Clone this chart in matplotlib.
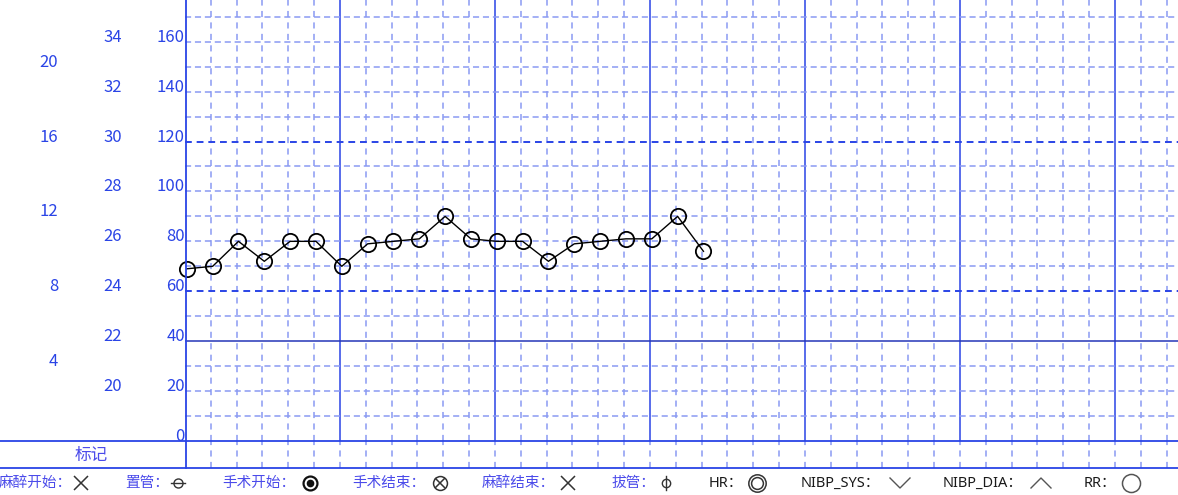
import numpy as np
import matplotlib.pyplot as plt
from matplotlib import transforms

plt.rcParams['font.family'] = ['Noto Sans CJK SC', 'DejaVu Sans']

# values (one point per 5-min column)
t = np.arange(21)
rr = [69, 70, 80, 72, 80, 80, 70, 79, 80, 81, 90, 81, 80, 80, 72, 79, 80, 81, 81, 90, 76]

main_ticks = [0, 20, 40, 60, 80, 100, 120, 140, 160]
col2_ticks = [20, 22, 24, 26, 28, 30, 32, 34]   # 18 + main/10
col1_ticks = [4, 8, 12, 16, 20]                 # main/7.5

legend_labels = ['麻醉开始：', '置管：', '手术开始：', '手术结束：', '麻醉结束：', '拔管：',
                 'HR：', 'NIBP_SYS：', 'NIBP_DIA：', 'RR：']
legend_text_x = [-1, 125, 222, 352, 482, 612, 709, 801, 943, 1084]
legend_sym_x = [81, 178, 310, 440, 568, 666, 757, 900, 1041, 1131]

W, H = 1178, 495
blue = '#2a44e6'
light = '#8a9af2'
txt_blue = '#4b4bea'

fig = plt.figure(figsize=(W / 100, H / 100), dpi=100)

# main chart area
ax = fig.add_axes([185 / W, 1 - 441 / H, 1 - 185 / W, 441 / H])
ax.set_xlim(0, 38.44)
ax.set_ylim(0, 176.7)
ax.axis('off')

for i in range(1, 39):
    if i % 6 == 0:
        ax.axvline(i, color=blue, lw=1.1)
    else:
        ax.axvline(i, color=light, lw=1.1, ls=(0, (4, 3.5)))
for v in range(10, 180, 10):
    if v == 40:
        ax.axhline(v, color='#2536b8', lw=1.1)
    elif v in (60, 120):
        ax.axhline(v, color=blue, lw=1.4, ls=(0, (3.5, 2.5)))
    else:
        ax.axhline(v, color=light, lw=1.1, ls=(0, (4, 2.5)))

ax.plot(t + 0.07, rr, color='black', lw=1, marker='o', ms=11, mfc='none',
        mec='black', mew=1.3, clip_on=False, zorder=5)

# marker row below the chart
axr = fig.add_axes([185 / W, 1 - 468 / H, 1 - 185 / W, 27 / H])
axr.set_xlim(0, 38.44)
axr.set_ylim(0, 1)
axr.axis('off')
for i in range(1, 39):
    axr.axvline(i, color=light, lw=1.1, ls=(0, (4, 3.5)))

# overlay in pixel coordinates for frame lines and text
ov = fig.add_axes([0, 0, 1, 1], zorder=10)
ov.set_xlim(0, W)
ov.set_ylim(H, 0)
ov.axis('off')
ov.patch.set_alpha(0)

ov.plot([0, W], [441, 441], color=blue, lw=1.3)
ov.plot([0, W], [468, 468], color=blue, lw=1.3)
ov.plot([185.5, 185.5], [0, 468], color=blue, lw=1.3)

tr = transforms.blended_transform_factory(ov.transData, ax.transData)
for v in main_ticks:
    ov.text(185, v, str(v), transform=tr, ha='right', va='baseline',
            fontsize=12, color=blue)
for v in col2_ticks:
    ov.text(122, (v - 18) * 10, str(v), transform=tr, ha='right', va='baseline',
            fontsize=12, color=blue)
for v in col1_ticks:
    ov.text(58, v * 7.5, str(v), transform=tr, ha='right', va='baseline',
            fontsize=12, color=blue)

ov.text(91, 455, '标记', ha='center', va='center', fontsize=12, color=txt_blue)

# legend row
ly = 483
for i, (lab, x) in enumerate(zip(legend_labels, legend_text_x)):
    if i < 6:
        ov.text(x, ly, lab, ha='left', va='center', fontsize=10.5, color=txt_blue)
    else:
        ov.text(x, ly, lab, ha='left', va='center', fontsize=10.5, color='#1a1a1a',
                family=['Noto Sans', 'Noto Sans CJK SC'])

sc = '#333333'
sx = legend_sym_x
# 麻醉开始 / 麻醉结束: cross
for x in (sx[0], sx[4]):
    ov.plot(x, ly, marker='x', ms=9.5, mec=sc, mew=1.1)
# 置管: circle with bar
ov.plot([sx[1] - 7, sx[1] + 7], [ly, ly], color=sc, lw=1)
ov.plot(sx[1], ly, marker='o', ms=6.5, mfc='none', mec=sc, mew=1)
# 手术开始: dotted circle
ov.plot(sx[2], ly, marker='o', ms=10, mfc='none', mec='#111111', mew=1.6)
ov.plot(sx[2], ly, marker='o', ms=4.5, mfc='#111111', mec='#111111')
# 手术结束: crossed circle
ov.plot(sx[3], ly, marker='o', ms=10, mfc='none', mec=sc, mew=1.1)
ov.plot(sx[3], ly, marker='x', ms=6.5, mec=sc, mew=1.1)
# 拔管: phi
ov.plot([sx[5], sx[5]], [ly - 7, ly + 7], color=sc, lw=1)
ov.plot(sx[5], ly, marker='o', ms=6, mfc='none', mec=sc, mew=1)
# HR: double circle
ov.plot(sx[6], ly, marker='o', ms=12.5, mfc='none', mec=sc, mew=1.1)
ov.plot(sx[6], ly, marker='o', ms=8.5, mfc='none', mec=sc, mew=1.1)
# NIBP_SYS / NIBP_DIA: chevrons
ov.plot([sx[7] - 10, sx[7], sx[7] + 10], [ly - 5, ly + 5, ly - 5], color='#555555', lw=1)
ov.plot([sx[8] - 10, sx[8], sx[8] + 10], [ly + 5, ly - 5, ly + 5], color='#555555', lw=1)
# RR: circle
ov.plot(sx[9], ly, marker='o', ms=13, mfc='none', mec='#555555', mew=1.1)

fig.savefig('out.png', dpi=100)
